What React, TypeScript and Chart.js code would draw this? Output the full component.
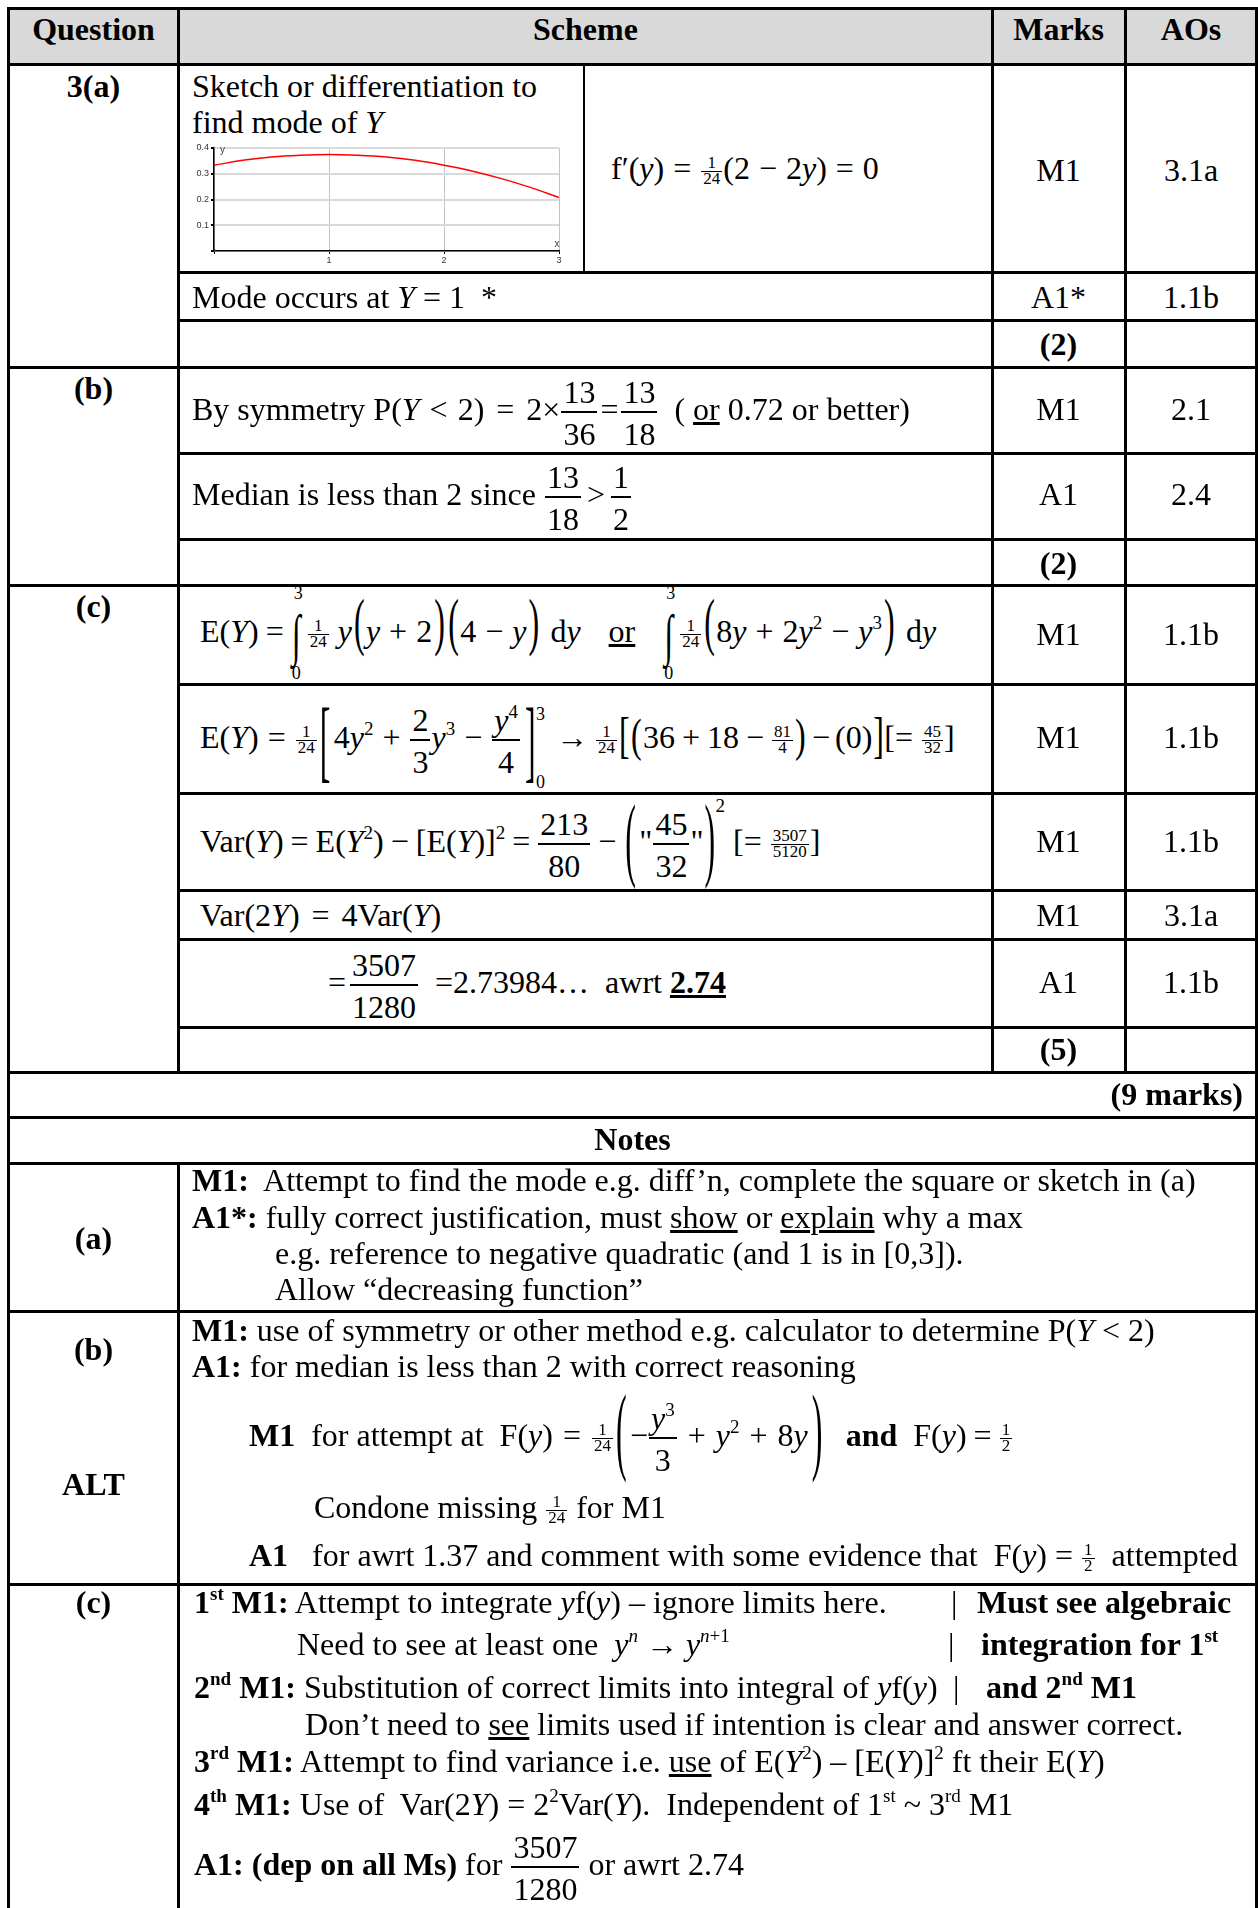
import React, { useEffect, useRef } from "react";
import { Chart, registerables } from "chart.js";
Chart.register(...registerables);

// ---- chart data (sketch of f(y)) ----
const curveX = [0, 0.25, 0.5, 0.75, 1, 1.25, 1.5, 1.75, 2, 2.25, 2.5, 2.75, 3];
const curveY = [0.333, 0.352, 0.365, 0.372, 0.375, 0.372, 0.365, 0.352, 0.333, 0.31, 0.281, 0.247, 0.208];
const xTickLabels = ["", "1", "2", "3"];
const yTickValues = [0.1, 0.2, 0.3, 0.4];
const originPoint = [{ x: 0, y: 0 }];

const FONT = '"Liberation Serif", "Times New Roman", Times, serif';
const FS = 32;
const LH = 120;
const T = 3;

function baseOff(fs: number, lh: number) {
  return (lh - 1.107 * fs) / 2 + 0.891 * fs;
}

function Line({ x, y, fs = FS, bold = false, children }: any) {
  return (
    <div style={{ position: "absolute", left: x, top: y - baseOff(fs, LH), fontSize: fs, lineHeight: LH + "px", whiteSpace: "pre", fontWeight: bold ? "bold" : "normal" }}>
      {children}
    </div>
  );
}

function Center({ x1, x2, y, fs = FS, bold = false, children }: any) {
  return (
    <div style={{ position: "absolute", left: x1, width: x2 - x1, textAlign: "center", top: y - baseOff(fs, LH), fontSize: fs, lineHeight: LH + "px", whiteSpace: "pre", fontWeight: bold ? "bold" : "normal" }}>
      {children}
    </div>
  );
}

function Frac({ n, d, fs = FS, nb = 8.5, db = 33.5, axis = 8.3, bar = 2, pad = 2 }: any) {
  const L = fs;
  const b = L / 2 + 0.3375 * fs;
  const gapT = nb - (L - b) - bar / 2;
  const gapB = db - b - bar / 2;
  const va = -(bar / 2 + gapB + b - axis);
  return (
    <span style={{ display: "inline-block", verticalAlign: va + "px", textAlign: "center", margin: "0 1px", lineHeight: L + "px" }}>
      <span style={{ display: "block", fontSize: fs, lineHeight: L + "px", padding: `0 ${pad}px` }}>{n}</span>
      <span style={{ display: "block", height: bar, background: "#000", marginTop: gapT }} />
      <span style={{ display: "block", fontSize: fs, lineHeight: L + "px", marginTop: gapB, padding: `0 ${pad}px` }}>{d}</span>
    </span>
  );
}

const SM = { fs: 17, nb: 2.5, db: 13, axis: 8.3, bar: 1 };

function Sup({ children, raise = 13, fs = 19, bold = false }: any) {
  return <span style={{ fontSize: fs, verticalAlign: raise + "px", lineHeight: "1px", fontWeight: bold ? "bold" : undefined }}>{children}</span>;
}

function Op({ c, m = 9 }: any) {
  return <span style={{ margin: `0 ${m}px` }}>{c}</span>;
}

// stretched delimiter glyph, top/bot relative to baseline (negative = above)
function Delim({ ch, top, bot, w, fs = FS, gt = 0.69, gb = -0.2, dx = 0, extra = null }: any) {
  const L = fs;
  const b = 0.8375 * fs;
  const gTop = b - gt * fs;
  const gBot = b - gb * fs;
  const s = (bot - top) / (gBot - gTop);
  const spanTop = top - gTop * s;
  return (
    <span style={{ display: "inline-block", position: "relative", width: w, height: 0 }}>
      <span style={{ position: "absolute", left: dx, top: spanTop, fontSize: fs, lineHeight: L + "px", transform: `scaleY(${s})`, transformOrigin: "0 0" }}>{ch}</span>
      {extra}
    </span>
  );
}

function SmallAt({ x, y, children, fs = 18 }: any) {
  return <span style={{ position: "absolute", left: x, top: y - 0.8375 * fs, fontSize: fs, lineHeight: fs + "px" }}>{children}</span>;
}

function Integral({ hi = "3", lo = "0" }: any) {
  return (
    <Delim ch="∫" top={-40} bot={22} w={16} gt={0.9} gb={-0.2} dx={1}
      extra={<>
        <SmallAt x={3} y={-43}>{hi}</SmallAt>
        <SmallAt x={1} y={37}>{lo}</SmallAt>
      </>} />
  );
}

const P1 = (ch: string, top = -44, bot = 13, w = 14, dx = 2) => <Delim ch={ch} top={top} bot={bot} w={w} dx={dx} />;

function HL({ y, x1, x2 }: any) {
  return <div style={{ position: "absolute", left: x1 - T / 2, top: y - T / 2, width: x2 - x1 + T, height: T, background: "#000" }} />;
}
function VL({ x, y1, y2, w = T }: any) {
  return <div style={{ position: "absolute", left: x - w / 2, top: y1 - T / 2, width: w, height: y2 - y1 + T, background: "#000" }} />;
}
function Bar({ x, y }: any) {
  return <Line x={x} y={y}>|</Line>;
}

const axisLetters = {
  id: "axisLetters",
  afterDraw(chart: any) {
    const { ctx, scales } = chart;
    const xs = scales.x;
    const ys = scales.y;
    ctx.save();
    ctx.font = '10px "Liberation Sans", Arial, sans-serif';
    ctx.fillStyle = "#444";
    ctx.textBaseline = "middle";
    ctx.textAlign = "left";
    ctx.fillText("y", xs.getPixelForValue(0) + 6, ys.getPixelForValue(0.4) + 2);
    ctx.textAlign = "center";
    ctx.fillText("x", xs.getPixelForValue(3) - 2, ys.getPixelForValue(0) - 7);
    ctx.restore();
  },
};

function Sketch() {
  const ref = useRef<HTMLCanvasElement>(null);
  useEffect(() => {
    const tickFont = { size: 9, family: '"Liberation Sans", Arial, sans-serif' };
    const chart = new Chart(ref.current as HTMLCanvasElement, {
      type: "line",
      data: {
        datasets: [
          { data: curveX.map((x, i) => ({ x, y: curveY[i] })), borderColor: "#ff0000", borderWidth: 1.5, pointRadius: 0, tension: 0.4, fill: false },
          { data: originPoint, pointRadius: 2, pointBackgroundColor: "#333", pointBorderWidth: 0, showLine: false },
        ],
      },
      options: {
        animation: false,
        responsive: false,
        devicePixelRatio: 1,
        layout: { padding: { left: 0, right: 7, top: 8, bottom: 0 } },
        plugins: { legend: { display: false }, tooltip: { enabled: false } },
        scales: {
          x: {
            type: "linear", min: 0, max: 3,
            afterFit: (s: any) => { s.height = 17; },
            ticks: { stepSize: 1, autoSkip: false, maxRotation: 0, padding: 1, color: "#333", font: tickFont, callback: (v: any) => xTickLabels[Math.round(Number(v))] ?? "" },
            grid: { color: "#c4c4c4", lineWidth: 1, tickLength: 3, tickColor: "#000" },
            border: { color: "#000", width: 1.5 },
          },
          y: {
            min: 0, max: 0.4,
            afterFit: (s: any) => { s.width = 28; },
            ticks: { stepSize: 0.1, padding: 2, color: "#333", font: tickFont, callback: (v: any) => { const f = yTickValues.find((t) => Math.abs(t - Number(v)) < 1e-6); return f === undefined ? "" : f.toFixed(1); } },
            grid: { color: "#dadada", lineWidth: 2, tickLength: 3, tickColor: "#000" },
            border: { color: "#000", width: 1.5 },
          },
        },
      } as any,
      plugins: [axisLetters],
    });
    return () => chart.destroy();
  }, []);
  return <canvas ref={ref} width={380} height={128} style={{ position: "absolute", left: 186, top: 140, width: 380, height: 128 }} />;
}

const C0 = [10, 177];
const CM = [993, 1124];
const CA = [1127, 1255];

function MarkRow({ y, m, a }: any) {
  return (
    <>
      <Center x1={CM[0]} x2={CM[1]} y={y}>{m}</Center>
      <Center x1={CA[0]} x2={CA[1]} y={y}>{a}</Center>
    </>
  );
}

const F124 = () => <Frac n="1" d="24" {...SM} />;

export default function App() {
  const full = [8.5, 64.5, 367.5, 585.5, 1072, 1117.5, 1163, 1311, 1584];
  const part = [272.5, 320, 453.5, 539, 684, 793, 890, 939, 1027];
  return (
    <div style={{ position: "absolute", left: 0, top: 0, width: 1258, height: 1908, overflow: "hidden", background: "#fff", fontFamily: FONT, color: "#000" }}>
      <div style={{ position: "absolute", left: 8.5, top: 8.5, width: 1248, height: 56, background: "#d9d9d9" }} />
      {full.map((y) => <HL key={"f" + y} y={y} x1={8.5} x2={1256.5} />)}
      {part.map((y) => <HL key={"p" + y} y={y} x1={178.5} x2={1256.5} />)}
      <VL x={8.5} y1={8.5} y2={1910} />
      <VL x={1256.5} y1={8.5} y2={1910} />
      <VL x={178.5} y1={8.5} y2={1072} />
      <VL x={178.5} y1={1163} y2={1910} />
      <VL x={992} y1={8.5} y2={1072} />
      <VL x={1125.5} y1={8.5} y2={1072} />
      <VL x={584} y1={64.5} y2={272.5} w={2} />

      {/* header */}
      <Center x1={C0[0]} x2={C0[1]} y={40} bold>Question</Center>
      <Center x1={180} x2={991} y={40} bold>Scheme</Center>
      <Center x1={CM[0]} x2={CM[1]} y={40} bold>Marks</Center>
      <Center x1={CA[0]} x2={CA[1]} y={40} bold>AOs</Center>

      {/* 3(a) */}
      <Center x1={C0[0]} x2={C0[1]} y={97} bold>3(a)</Center>
      <Line x={192} y={97}>Sketch or differentiation to</Line>
      <Line x={192} y={133}>find mode of <i>Y</i></Line>
      <Sketch />
      <Line x={611} y={179}>f′(<i>y</i>)<Op c="=" /><F124 />(2<Op c="−" />2<i>y</i>)<Op c="=" />0</Line>
      <MarkRow y={181} m="M1" a="3.1a" />
      <Line x={192} y={308}>Mode occurs at <i>Y</i> = 1  *</Line>
      <MarkRow y={308} m="A1*" a="1.1b" />
      <Center x1={CM[0]} x2={CM[1]} y={355} bold>(2)</Center>

      {/* (b) */}
      <Center x1={C0[0]} x2={C0[1]} y={399} bold>(b)</Center>
      <Line x={192} y={420}>By symmetry P(<i>Y</i><Op c="<" m={10} />2)<Op c="=" m={12} />2×<Frac n="13" d="36" /><Op c="=" m={2} /><Frac n="13" d="18" />  ( <u>or</u> 0.72 or better)</Line>
      <MarkRow y={420} m="M1" a="2.1" />
      <Line x={192} y={505}>Median is less than 2 since <Frac n="13" d="18" /><Op c=">" m={5} /><Frac n="1" d="2" /></Line>
      <MarkRow y={505} m="A1" a="2.4" />
      <Center x1={CM[0]} x2={CM[1]} y={574} bold>(2)</Center>

      {/* (c) */}
      <Center x1={C0[0]} x2={C0[1]} y={617} bold>(c)</Center>
      <Line x={200} y={642}>
        E(<i>Y</i>)<Op c="=" m={7} /><Integral /><F124 /> <i>y</i>{P1("(")}<i>y</i><Op c="+" m={9} />2{P1(")")}{P1("(")}4<Op c="−" m={9} /><i>y</i>{P1(")")}<span style={{ marginLeft: 10 }}>d</span><i>y</i><span style={{ marginLeft: 28, textDecoration: "underline" }}>or</span><span style={{ marginLeft: 28 }} /><Integral /><F124 />{P1("(")}8<i>y</i><Op c="+" m={9} />2<i>y</i><Sup>2</Sup><Op c="−" m={9} /><i>y</i><Sup>3</Sup>{P1(")")}<span style={{ marginLeft: 10 }}>d</span><i>y</i>
      </Line>
      <MarkRow y={645} m="M1" a="1.1b" />
      <Line x={200} y={748}>
        E(<i>Y</i>)<Op c="=" m={9} /><F124 />
        <Delim ch="[" top={-38} bot={37} w={16} dx={2} gt={0.66} gb={-0.16} />
        4<i>y</i><Sup>2</Sup><Op c="+" m={9} /><Frac n="2" d="3" /><i>y</i><Sup>3</Sup><Op c="−" m={9} /><Frac n={<><i>y</i><Sup>4</Sup></>} d="4" />
        <Delim ch="]" top={-38} bot={37} w={28} dx={4} gt={0.66} gb={-0.16} extra={<><SmallAt x={15} y={-28}>3</SmallAt><SmallAt x={15} y={40}>0</SmallAt></>} />
        <Op c="→" m={7} /><F124 />
        <Delim ch="[" top={-30} bot={12} w={12} dx={1} gt={0.66} gb={-0.16} />
        {P1("(", -30, 12, 13, 1)}36<Op c="+" m={7} />18<Op c="−" m={7} /><Frac n="81" d="4" {...SM} />{P1(")", -30, 12, 13, 1)}<Op c="−" m={5} />(0)
        <Delim ch="]" top={-30} bot={12} w={12} dx={1} gt={0.66} gb={-0.16} />[= <Frac n="45" d="32" {...SM} />]
      </Line>
      <MarkRow y={748} m="M1" a="1.1b" />
      <Line x={200} y={852}>
        Var(<i>Y</i>)<Op c="=" m={7} />E(<i>Y</i><Sup>2</Sup>)<Op c="−" m={7} />[E(<i>Y</i>)]<Sup>2</Sup><Op c="=" m={7} /><Frac n="213" d="80" /><Op c="−" m={7} />{P1("(", -48, 34, 16, 2)}"<Frac n="45" d="32" />"{P1(")", -48, 34, 12, 1)}<Sup raise={40}>2</Sup> [= <Frac n="3507" d="5120" {...SM} />]
      </Line>
      <MarkRow y={852} m="M1" a="1.1b" />
      <Line x={200} y={926}>Var(2<i>Y</i>)<Op c="=" m={12} />4Var(<i>Y</i>)</Line>
      <MarkRow y={926} m="M1" a="3.1a" />
      <Line x={328} y={993}>=<span style={{ marginLeft: 3 }} /><Frac n="3507" d="1280" />  =2.73984…  awrt <b style={{ textDecoration: "underline", textDecorationThickness: "3px" }}>2.74</b></Line>
      <MarkRow y={993} m="A1" a="1.1b" />
      <Center x1={CM[0]} x2={CM[1]} y={1060} bold>(5)</Center>

      <div style={{ position: "absolute", left: 0, width: 1243, textAlign: "right", top: 1105 - baseOff(FS, LH), fontSize: FS, lineHeight: LH + "px", fontWeight: "bold" }}>(9 marks)</div>
      <Center x1={10} x2={1255} y={1150} bold>Notes</Center>

      {/* notes (a) */}
      <Center x1={C0[0]} x2={C0[1]} y={1249} bold>(a)</Center>
      <Line x={192} y={1191}><b>M1:</b>  Attempt to find the mode e.g. diff’n, complete the square or sketch in (a)</Line>
      <Line x={192} y={1228}><b>A1*:</b> fully correct justification, must <u>show</u> or <u>explain</u> why a max</Line>
      <Line x={275} y={1264}>e.g. reference to negative quadratic (and 1 is in [0,3]).</Line>
      <Line x={275} y={1300}>Allow “decreasing function”</Line>

      {/* notes (b) */}
      <Center x1={C0[0]} x2={C0[1]} y={1360} bold>(b)</Center>
      <Center x1={C0[0]} x2={C0[1]} y={1495} bold>ALT</Center>
      <Line x={192} y={1341}><b>M1:</b> use of symmetry or other method e.g. calculator to determine P(<i>Y</i> {"<"} 2)</Line>
      <Line x={192} y={1377}><b>A1:</b> for median is less than 2 with correct reasoning</Line>
      <Line x={249} y={1446}>
        <b>M1</b>  for attempt at  F(<i>y</i>)<Op c="=" m={10} /><F124 />{P1("(", -52, 34, 16, 2)}−<Frac n={<><i>y</i><Sup>3</Sup></>} d="3" /><Op c="+" m={10} /><i>y</i><Sup>2</Sup><Op c="+" m={10} />8<i>y</i>{P1(")", -52, 34, 18, 4)}<span style={{ marginLeft: 20 }} /><b>and</b>  F(<i>y</i>)<Op c="=" m={7} /><Frac n="1" d="2" {...SM} />
      </Line>
      <Line x={314} y={1518}>Condone missing <F124 /> for M1</Line>
      <Line x={249} y={1566}><b>A1</b>   for awrt 1.37 and comment with some evidence that  F(<i>y</i>) = <Frac n="1" d="2" {...SM} />  attempted</Line>

      {/* notes (c) */}
      <Center x1={C0[0]} x2={C0[1]} y={1613} bold>(c)</Center>
      <Line x={194} y={1613}><b>1<Sup bold>st</Sup> M1:</b> Attempt to integrate <i>y</i>f(<i>y</i>) – ignore limits here.</Line>
      <Bar x={951} y={1613} />
      <Line x={977} y={1613} bold>Must see algebraic</Line>
      <Line x={297} y={1655}>Need to see at least one  <i>y</i><Sup><i>n</i></Sup> → <i>y</i><Sup><i>n</i>+1</Sup></Line>
      <Bar x={948} y={1655} />
      <Line x={981} y={1655} bold>integration for 1<Sup bold>st</Sup></Line>
      <Line x={194} y={1698}><b>2<Sup bold>nd</Sup> M1:</b> Substitution of correct limits into integral of <i>y</i>f(<i>y</i>)</Line>
      <Bar x={953} y={1698} />
      <Line x={986} y={1698} bold>and 2<Sup bold>nd</Sup> M1</Line>
      <Line x={305} y={1735}>Don’t need to <u>see</u> limits used if intention is clear and answer correct.</Line>
      <Line x={194} y={1772}><b>3<Sup bold>rd</Sup> M1:</b> Attempt to find variance i.e. <u>use</u> of E(<i>Y</i><Sup>2</Sup>) – [E(<i>Y</i>)]<Sup>2</Sup> ft their E(<i>Y</i>)</Line>
      <Line x={194} y={1815}><b>4<Sup bold>th</Sup> M1:</b> Use of  Var(2<i>Y</i>) = 2<Sup>2</Sup>Var(<i>Y</i>).  Independent of 1<Sup>st</Sup> ~ 3<Sup>rd</Sup> M1</Line>
      <Line x={194} y={1875}><b>A1: (dep on all Ms)</b> for <Frac n="3507" d="1280" /> or awrt 2.74</Line>
    </div>
  );
}
